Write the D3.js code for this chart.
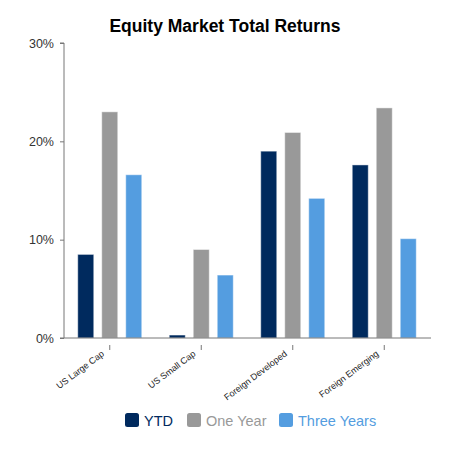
<!DOCTYPE html>
<html>
<head>
<meta charset="utf-8">
<script src="https://cdn.jsdelivr.net/npm/d3@7"></script>
<style>
  body { margin: 0; background: #fff; }
  text { font-family: "Liberation Sans", Arial, sans-serif; }
</style>
</head>
<body>
<script>
const categories = ['US Large Cap', 'US Small Cap', 'Foreign Developed', 'Foreign Emerging'];
const seriesNames = ['YTD', 'One Year', 'Three Years'];
const seriesColors = ['#002a5e', '#999999', '#549de0'];
const ytd = [8.5, 0.3, 19.0, 17.6];
const oneYear = [23.0, 9.0, 20.9, 23.4];
const threeYears = [16.6, 6.4, 14.2, 10.1];
const yTicks = [0, 10, 20, 30];

const series = [ytd, oneYear, threeYears];

let w = 450, h = 450,
  margin = {top: 43, left: 64, right: 20, bottom: 112};

let svg = d3.select(document.body).append('svg')
  .attr('width', w)
  .attr('height', h);

svg.append('text')
  .attr('x', 225)
  .attr('y', 32)
  .attr('text-anchor', 'middle')
  .style('font-size', '17.5px')
  .style('font-weight', 'bold')
  .attr('fill', '#000')
  .text('Equity Market Total Returns');

let x = d3.scaleBand()
  .domain(categories)
  .range([margin.left, 430]);

// bars within a group: 3 bars of 16px, 8px gaps
let xs = d3.scaleBand()
  .domain(seriesNames)
  .range([0, 64])
  .paddingInner(1 / 3);

let y = d3.scaleLinear()
  .domain([0, 30])
  .range([338, margin.top]);

// bars
let groups = svg.selectAll('.group')
  .data(categories)
  .enter().append('g')
  .attr('class', 'group')
  .attr('transform', c => `translate(${x(c) + x.bandwidth() / 2 - 32},0)`);

groups.selectAll('rect')
  .data((c, i) => series.map((s, j) => ({name: seriesNames[j], v: s[i], color: seriesColors[j]})))
  .enter().append('rect')
  .attr('x', d => xs(d.name))
  .attr('y', d => y(d.v))
  .attr('width', xs.bandwidth())
  .attr('height', d => y(0) - y(d.v))
  .attr('fill', d => d.color)
  .attr('stroke', 'rgba(255,255,255,0.45)')
  .attr('stroke-width', 1);

// y axis
let yAxis = svg.append('g')
  .attr('transform', `translate(${margin.left},0)`)
  .call(d3.axisLeft(y).tickValues(yTicks).tickFormat(d => d + '%').tickSize(4).tickPadding(6));
yAxis.select('.domain').attr('stroke', '#777').attr('d', `M-4,${y(30)}H0V${y(0)}`);
yAxis.selectAll('.tick line').attr('stroke', '#777');
yAxis.selectAll('.tick text').style('font-size', '12.5px').attr('fill', '#333');

// x axis line
svg.append('line')
  .attr('x1', 60).attr('x2', 431)
  .attr('y1', y(0)).attr('y2', y(0))
  .attr('stroke', '#777');

let xAxis = svg.append('g')
  .attr('transform', `translate(0,${y(0) + 7})`)
  .call(d3.axisBottom(x).tickSize(5).tickPadding(0));
xAxis.select('.domain').remove();
xAxis.selectAll('.tick line').attr('stroke', '#777');
xAxis.selectAll('.tick text')
  .style('font-size', '9px')
  .attr('fill', '#222')
  .attr('text-anchor', 'end')
  .attr('y', 0)
  .attr('dy', 0)
  .attr('transform', 'translate(-5,10) rotate(-37)');

// legend
let legendX = [125, 187, 279];
let legend = svg.selectAll('.legend')
  .data(seriesNames)
  .enter().append('g')
  .attr('class', 'legend')
  .attr('transform', (d, i) => `translate(${legendX[i]},413)`);

legend.append('rect')
  .attr('width', 14)
  .attr('height', 14)
  .attr('rx', 2.5)
  .attr('fill', (d, i) => seriesColors[i]);

legend.append('text')
  .attr('x', 19)
  .attr('y', 12.5)
  .style('font-size', '14.5px')
  .attr('fill', (d, i) => seriesColors[i])
  .text(d => d);
</script>
</body>
</html>
